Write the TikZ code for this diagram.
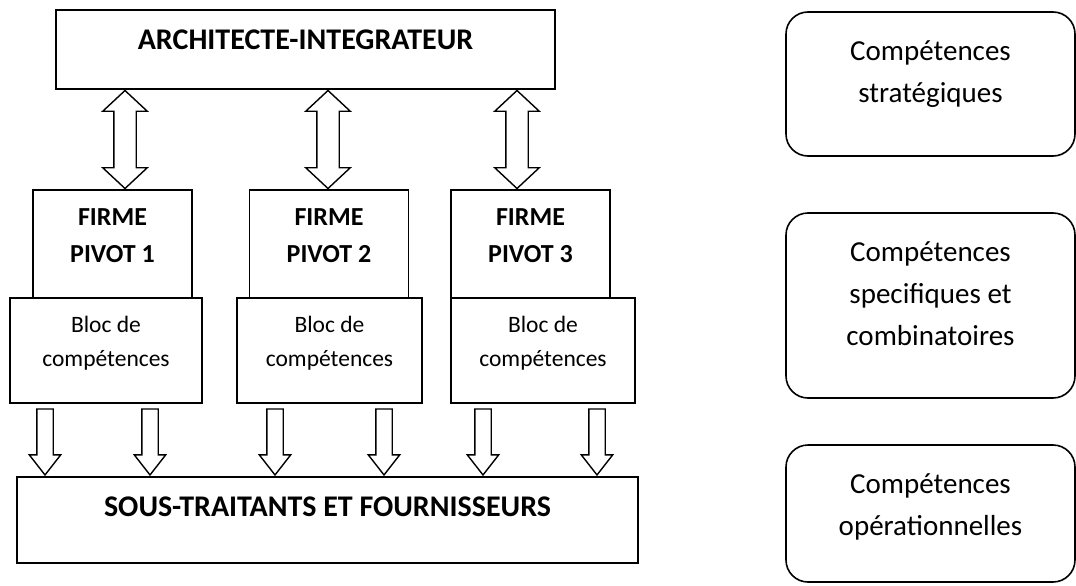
\documentclass[tikz,border=0pt]{standalone}
\usepackage{fontspec}
\setmainfont{Carlito}
\usetikzlibrary{shapes.arrows,positioning,calc}

\tikzset{
  boite/.style={draw, line width=1.8pt, inner sep=0pt},
  pivot/.style={boite, minimum width=159pt, minimum height=108pt},
  bloc/.style={boite, minimum height=105pt},
  niveau/.style={draw, line width=1.6pt, rounded corners=22pt, inner sep=0pt, minimum width=289pt},
  gras/.style={font=\fontsize{30}{36}\selectfont\bfseries, inner sep=0pt},
  grasfirme/.style={font=\fontsize{26}{37}\selectfont\bfseries, align=center, inner sep=0pt},
  texte/.style={font=\fontsize{23.5}{34}\selectfont, align=center, inner sep=0pt},
  grandtexte/.style={font=\fontsize{29}{42}\selectfont, align=center, inner sep=0pt},
  dfleche/.style={double arrow, draw, line width=1.4pt, rotate=90, inner xsep=0pt, inner ysep=10.5pt,
    double arrow head extend=11pt, double arrow tip angle=94, minimum height=98pt},
  fleche/.style={single arrow, draw, line width=1.4pt, rotate=-90, inner xsep=0pt, inner ysep=7.5pt,
    single arrow head extend=7.5pt, single arrow tip angle=76, minimum height=66pt, anchor=tip}
}

\begin{document}
\begin{tikzpicture}[x=1pt, y=-1pt]
        \useasboundingbox (0,0) rectangle (1076,586);

        \node[boite, minimum width=499pt, minimum height=79pt] (archi) at (305.5,49.5) {};
        \node[gras, below=21pt of archi.north] (archi-t) {ARCHITECTE-INTEGRATEUR};

        \node[pivot] (firme1) at (112.5,244) {};
        \node[pivot] (firme2) at (329,244) {};
        \node[pivot] (firme3) at (530.5,244) {};
        \node[grasfirme, below=19pt of firme1.north] (firme1-t) {FIRME\\PIVOT 1};
        \node[grasfirme, below=19pt of firme2.north] (firme2-t) {FIRME\\PIVOT 2};
        \node[grasfirme, below=19pt of firme3.north] (firme3-t) {FIRME\\PIVOT 3};

        \node[bloc, minimum width=192pt] (bloc1) at (106,350.5) {};
        \node[bloc, minimum width=185pt] (bloc2) at (329.5,350.5) {};
        \node[bloc, minimum width=184pt] (bloc3) at (543,350.5) {};
        \node[texte, below=19pt of bloc1.north] (bloc1-t) {Bloc de\\compétences};
        \node[texte, below=19pt of bloc2.north] (bloc2-t) {Bloc de\\compétences};
        \node[texte, below=19pt of bloc3.north] (bloc3-t) {Bloc de\\compétences};

        \node[boite, minimum width=621pt, minimum height=86pt] (sous) at (327.5,520) {};
        \node[gras, below=21pt of sous.north] (sous-t) {SOUS-TRAITANTS ET FOURNISSEURS};

        \foreach \i/\x in {1/125,2/328,3/517}
          \node[dfleche] (d\i) at ($(\x,0 |- archi.south)!0.5!(\x,0 |- firme\i.north)$) {};

        \foreach \i/\x in {1/45,2/150,3/275,4/384,5/483,6/597}
          \node[fleche] (f\i) at (\x,0 |- sous.north) {};

        \node[niveau, minimum height=144pt] (strat) at (930.5,84) {};
        \node[niveau, minimum height=185pt] (spec) at (930.5,305.5) {};
        \node[niveau, minimum height=137pt] (oper) at (930.5,513.5) {};
        \node[grandtexte, below=29pt of strat.north] (strat-t) {Compétences\\stratégiques};
        \node[grandtexte, below=29pt of spec.north] (spec-t) {Compétences\\specifiques et\\combinatoires};
        \node[grandtexte, below=29pt of oper.north] (oper-t) {Compétences\\opérationnelles};
\end{tikzpicture}
\end{document}
